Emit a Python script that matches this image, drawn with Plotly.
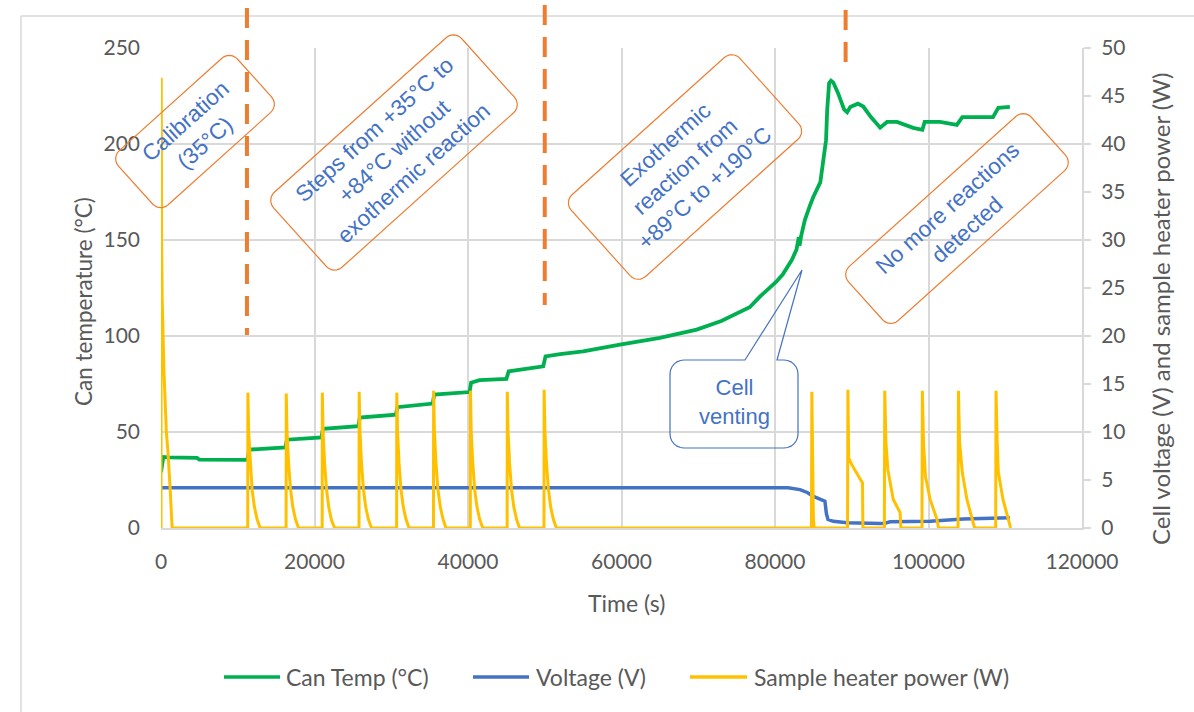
import math
import plotly.graph_objects as go

# ---------------- data ----------------
can_time = [0, 150, 300, 1000, 4700, 5000,
            11250, 11500, 16200, 16400, 20900, 21100, 25700, 25900, 30600, 30800,
            35400, 35600, 40200, 40400, 41500, 45000, 45300, 49800, 50100,
            52000, 55000, 59800, 65000, 69800, 73000, 76700, 78000, 80100, 81000, 82200,
            82800, 83100, 83200, 83400, 83900, 84560, 85000, 85900, 86300, 86650,
            86800, 87050, 87300, 87600, 88200, 89000, 89400, 89800, 90800, 91500,
            92500, 93700, 94600, 95900, 98000, 99200, 99500, 101500, 103700, 104400,
            108400, 109100, 110600]
can_temp = [29, 34, 37, 36.8, 36.5, 35.6,
            35.5, 40.8, 42.0, 46.0, 47.2, 51.7, 53.0, 57.5, 59.0, 62.9,
            64.8, 69.5, 70.8, 75.7, 77.0, 77.6, 81.6, 84.2, 89.4,
            90.5, 92.0, 95.5, 99.0, 103.3, 107.8, 115.0, 120.4, 128.0, 132.0, 139.7,
            145.0, 151.5, 147.0, 152.0, 160.5, 168.0, 172.5, 180.0, 191.7, 202.0,
            217.7, 231.8, 233.0, 232.0, 226.6, 218.0, 216.5, 219.3, 221.0, 219.5,
            214.0, 208.5, 211.5, 211.5, 208.4, 207.4, 211.5, 211.5, 210.0, 214.0,
            214.0, 218.8, 219.3]

volt_time = [0, 81700, 83250, 84200, 85000, 86000, 86500, 86700, 86900, 87600,
             89400, 93700, 94300, 95000, 100200, 104500, 110600]
volt_v = [4.2, 4.2, 4.0, 3.7, 3.3, 3.0, 2.8, 1.5, 0.9, 0.7,
          0.55, 0.47, 0.5, 0.64, 0.7, 0.95, 1.06]

heat_time = [0, 30, 80, 150, 400, 700, 900, 1200, 1400, 1450,
             11300, 11320, 11420, 11620, 11870, 12170, 12520, 12920,
             16300, 16320, 16420, 16620, 16870, 17170, 17520, 17920,
             21000, 21020, 21120, 21320, 21570, 21870, 22220, 22620,
             25800, 25820, 25920, 26120, 26370, 26670, 27020, 27420,
             30700, 30720, 30820, 31020, 31270, 31570, 31920, 32320,
             35500, 35520, 35620, 35820, 36070, 36370, 36720, 37120,
             40300, 40320, 40420, 40620, 40870, 41170, 41520, 41920,
             45100, 45120, 45220, 45420, 45670, 45970, 46320, 46720,
             49900, 49920, 50020, 50220, 50470, 50770, 51120, 51520,
             84750, 84800, 84880, 85000, 85100,
             89450, 89500, 89600, 90000, 90500, 91000, 91400, 91450,
             94250, 94300, 94450, 94700, 95400, 96300, 96400,
             99150, 99200, 99350, 99600, 100200, 101100, 101300,
             103850, 103900, 104050, 104400, 105000, 105800, 106000,
             108750, 108800, 108950, 109100, 109700, 110600, 110700]
heat_w = [0, 46.9, 30, 24, 16, 10, 8, 4, 1.6, 0,
          0, 14.1, 10.0, 6.7, 4.0, 2.2, 0.9, 0,
          0, 14.0, 10.1, 6.8, 4.1, 2.2, 0.9, 0,
          0, 14.1, 10.0, 6.7, 4.0, 2.1, 0.8, 0,
          0, 14.2, 10.2, 6.8, 4.1, 2.2, 0.9, 0,
          0, 14.1, 10.1, 6.7, 4.0, 2.2, 0.9, 0,
          0, 14.3, 10.2, 6.9, 4.1, 2.3, 1.0, 0,
          0, 14.3, 10.1, 6.8, 4.0, 2.2, 0.9, 0,
          0, 14.2, 10.0, 6.7, 4.0, 2.2, 0.9, 0,
          0, 14.4, 10.2, 6.8, 4.1, 2.2, 0.9, 0,
          0, 14.2, 5.0, 1.0, 0,
          0, 14.4, 7.3, 6.6, 5.9, 5.2, 4.7, 0,
          0, 14.3, 9.0, 6.1, 3.0, 1.6, 0,
          0, 14.3, 9.0, 5.4, 3.0, 0.9, 0,
          0, 14.3, 9.0, 5.8, 3.0, 0.6, 0,
          0, 14.3, 9.0, 5.8, 3.0, 0.2, 0]

x_ticks = [0, 20000, 40000, 60000, 80000, 100000, 120000]
y_ticks = [0, 50, 100, 150, 200, 250]
y2_ticks = [0, 5, 10, 15, 20, 25, 30, 35, 40, 45, 50]
phase_marks = [11200, 50000, 89200]

series_names = ["Can Temp (°C)", "Voltage (V)", "Sample heater power (W)"]
box_texts = ["Calibration<br>(35°C)",
             "Steps from +35°C to<br>+84°C without<br>exothermic reaction",
             "Exothermic<br>reaction from<br>+89°C to +190°C",
             "No more reactions<br>detected"]
callout_text = "Cell<br>venting"

# ---------------- layout geometry ----------------
W, H = 1194, 712
ML, MR, MT, MB = 161, 112, 48, 184
PW, PH = W - ML - MR, H - MT - MB

GREEN, BLUE, YELLOW, ORANGE = "#00B050", "#4472C4", "#FFC000", "#ED7D31"
GRID, AXTXT = "#D9D9D9", "#595959"
LABEL_FONT = "Lato"
BOX_FONT = "Liberation Sans"
SERIES_COLORS = [GREEN, BLUE, YELLOW]


def pp(x, y):
    """pixel -> paper"""
    return ((x - ML) / PW, (H - MB - y) / PH)


def rot_round_rect(cx, cy, length, width, ang, r, n=6):
    a, b = length / 2, width / 2
    corners = [(a - r, b - r, 0), (-(a - r), b - r, 90), (-(a - r), -(b - r), 180), (a - r, -(b - r), 270)]
    pts = []
    for (ux, vy, start) in corners:
        for k in range(n + 1):
            t = math.radians(start + 90 * k / n)
            pts.append((ux + r * math.cos(t), vy + r * math.sin(t)))
    th = math.radians(ang)
    out = []
    for u, v in pts:
        sx = cx + u * math.cos(th) - v * math.sin(th)
        sy = cy - u * math.sin(th) - v * math.cos(th)
        out.append(pp(sx, sy))
    return "M " + " L ".join(f"{x:.5f},{y:.5f}" for x, y in out) + " Z"


fig = go.Figure()
fig.add_trace(go.Scatter(x=can_time, y=can_temp, mode="lines", name=series_names[0],
                         line=dict(color=GREEN, width=3.8), showlegend=False))
fig.add_trace(go.Scatter(x=volt_time, y=volt_v, mode="lines", name=series_names[1],
                         line=dict(color=BLUE, width=3.5), yaxis="y2", showlegend=False))
fig.add_trace(go.Scatter(x=heat_time, y=heat_w, mode="lines", name=series_names[2],
                         line=dict(color=YELLOW, width=3), yaxis="y2", showlegend=False))

shapes = []
annotations = []
# outer chart border (top and left visible)
x0, y0 = pp(21, 16)
x1, _ = pp(W + 5, 16)
_, y1 = pp(21, H + 5)
shapes.append(dict(type="line", xref="paper", yref="paper", x0=x0, y0=y0, x1=x1, y1=y0,
                   line=dict(color=GRID, width=1.5)))
shapes.append(dict(type="line", xref="paper", yref="paper", x0=x0, y0=y0, x1=x0, y1=y1,
                   line=dict(color=GRID, width=1.5)))

# dashed phase separators
dash_ext = [(8, 335), (5, 305), (10, 66)]
for xm, (ytop, ybot) in zip(phase_marks, dash_ext):
    shapes.append(dict(type="line", xref="x", yref="paper", x0=xm, x1=xm,
                       y0=pp(0, ytop)[1], y1=pp(0, ybot)[1],
                       line=dict(color=ORANGE, width=4, dash="20px,12px")))

# rotated rounded boxes
boxes = [(195, 131.5, 160, 73), (394, 152.5, 253, 101), (685, 167, 227, 110), (957, 218.5, 246, 73)]
for (cx, cy, ln, wd), txt in zip(boxes, box_texts):
    shapes.append(dict(type="path", xref="paper", yref="paper",
                       path=rot_round_rect(cx, cy, ln, wd, 42, 11),
                       line=dict(color=ORANGE, width=1.2)))
    px, py = pp(cx, cy)
    annotations.append(dict(x=px, y=py, xref="paper", yref="paper", text=txt, showarrow=False,
                            textangle=-42, xanchor="center", yanchor="middle",
                            font=dict(family=BOX_FONT, size=22.5, color=BLUE)))

# Cell venting callout
bl, br, bt, bb, rr = 670, 798, 360, 448, 14
tip = (802, 270)
pts = [(bl + rr, bt), (745, bt), tip, (777, bt), (br - rr, bt)]
path = "M " + " L ".join("%.5f,%.5f" % pp(*p) for p in pts)


def corner(cxp, cyp, a0):
    s = ""
    for k in range(1, 7):
        t = math.radians(a0 + 90 * k / 6)
        s += " L %.5f,%.5f" % pp(cxp + rr * math.cos(t), cyp + rr * math.sin(t))
    return s


path += corner(br - rr, bt + rr, 270)
path += " L %.5f,%.5f" % pp(br, bb - rr)
path += corner(br - rr, bb - rr, 0)
path += " L %.5f,%.5f" % pp(bl + rr, bb)
path += corner(bl + rr, bb - rr, 90)
path += " L %.5f,%.5f" % pp(bl, bt + rr)
path += corner(bl + rr, bt + rr, 180)
path += " Z"
shapes.append(dict(type="path", xref="paper", yref="paper", path=path,
                   line=dict(color=BLUE, width=1.2)))
cxp, cyp = pp(734, 402)
annotations.append(dict(x=cxp, y=cyp, xref="paper", yref="paper", text=callout_text, showarrow=False,
                        xanchor="center", yanchor="middle",
                        font=dict(family=BOX_FONT, size=22, color=BLUE)))

# axis titles
tx, ty = pp(626, 603)
annotations.append(dict(x=tx, y=ty, xref="paper", yref="paper", text="Time (s)", showarrow=False,
                        xanchor="center", yanchor="middle", font=dict(family=LABEL_FONT, size=23, color=AXTXT)))
tx, ty = pp(83, 302)
annotations.append(dict(x=tx, y=ty, xref="paper", yref="paper", text="Can temperature (°C)", showarrow=False,
                        textangle=-90, xanchor="center", yanchor="middle",
                        font=dict(family=LABEL_FONT, size=22.5, color=AXTXT)))
tx, ty = pp(1160, 309)
annotations.append(dict(x=tx, y=ty, xref="paper", yref="paper",
                        text="Cell voltage (V) and sample heater power (W)", showarrow=False,
                        textangle=-90, xanchor="center", yanchor="middle",
                        font=dict(family=LABEL_FONT, size=24, color=AXTXT)))

# legend (drawn manually to match the reference spacing)
leg_y = 677
leg_items = [(224, 280, 284), (473, 529, 534), (690, 747, 752)]
for (xa, xb, xt), nm, col in zip(leg_items, series_names, SERIES_COLORS):
    a0 = pp(xa, leg_y)
    a1 = pp(xb, leg_y)
    shapes.append(dict(type="line", xref="paper", yref="paper", x0=a0[0], y0=a0[1], x1=a1[0], y1=a1[1],
                       line=dict(color=col, width=3.5)))
    t0 = pp(xt, leg_y)
    annotations.append(dict(x=t0[0], y=t0[1], xref="paper", yref="paper", text=nm, showarrow=False,
                            xanchor="left", yanchor="middle",
                            font=dict(family=LABEL_FONT, size=23, color=AXTXT)))

fig.update_layout(
    width=W, height=H, autosize=False,
    margin=dict(l=ML, r=MR, t=MT, b=MB),
    paper_bgcolor="white", plot_bgcolor="white",
    font=dict(family=LABEL_FONT, size=20, color=AXTXT),
    showlegend=False,
    xaxis=dict(range=[0, 120000], tickvals=x_ticks, ticktext=[str(v) for v in x_ticks],
               showgrid=True, gridcolor=GRID, gridwidth=2, zeroline=False,
               showline=True, linecolor=GRID, linewidth=2, ticks="",
               tickfont=dict(size=21, color=AXTXT), ticklabelstandoff=14),
    yaxis=dict(range=[0, 250], tickvals=y_ticks, showgrid=True, gridcolor=GRID, gridwidth=2,
               zeroline=False, showline=False, ticks="",
               tickfont=dict(size=21, color=AXTXT), ticklabelstandoff=20),
    yaxis2=dict(range=[0, 50], tickvals=y2_ticks, overlaying="y", side="right", showgrid=False,
                zeroline=False, showline=True, linecolor=GRID, linewidth=2,
                ticks="outside", ticklen=7, tickwidth=2, tickcolor=GRID,
                tickfont=dict(size=21, color=AXTXT), ticklabelstandoff=6),
    shapes=shapes,
    annotations=annotations,
)

fig.write_html("out.html")
